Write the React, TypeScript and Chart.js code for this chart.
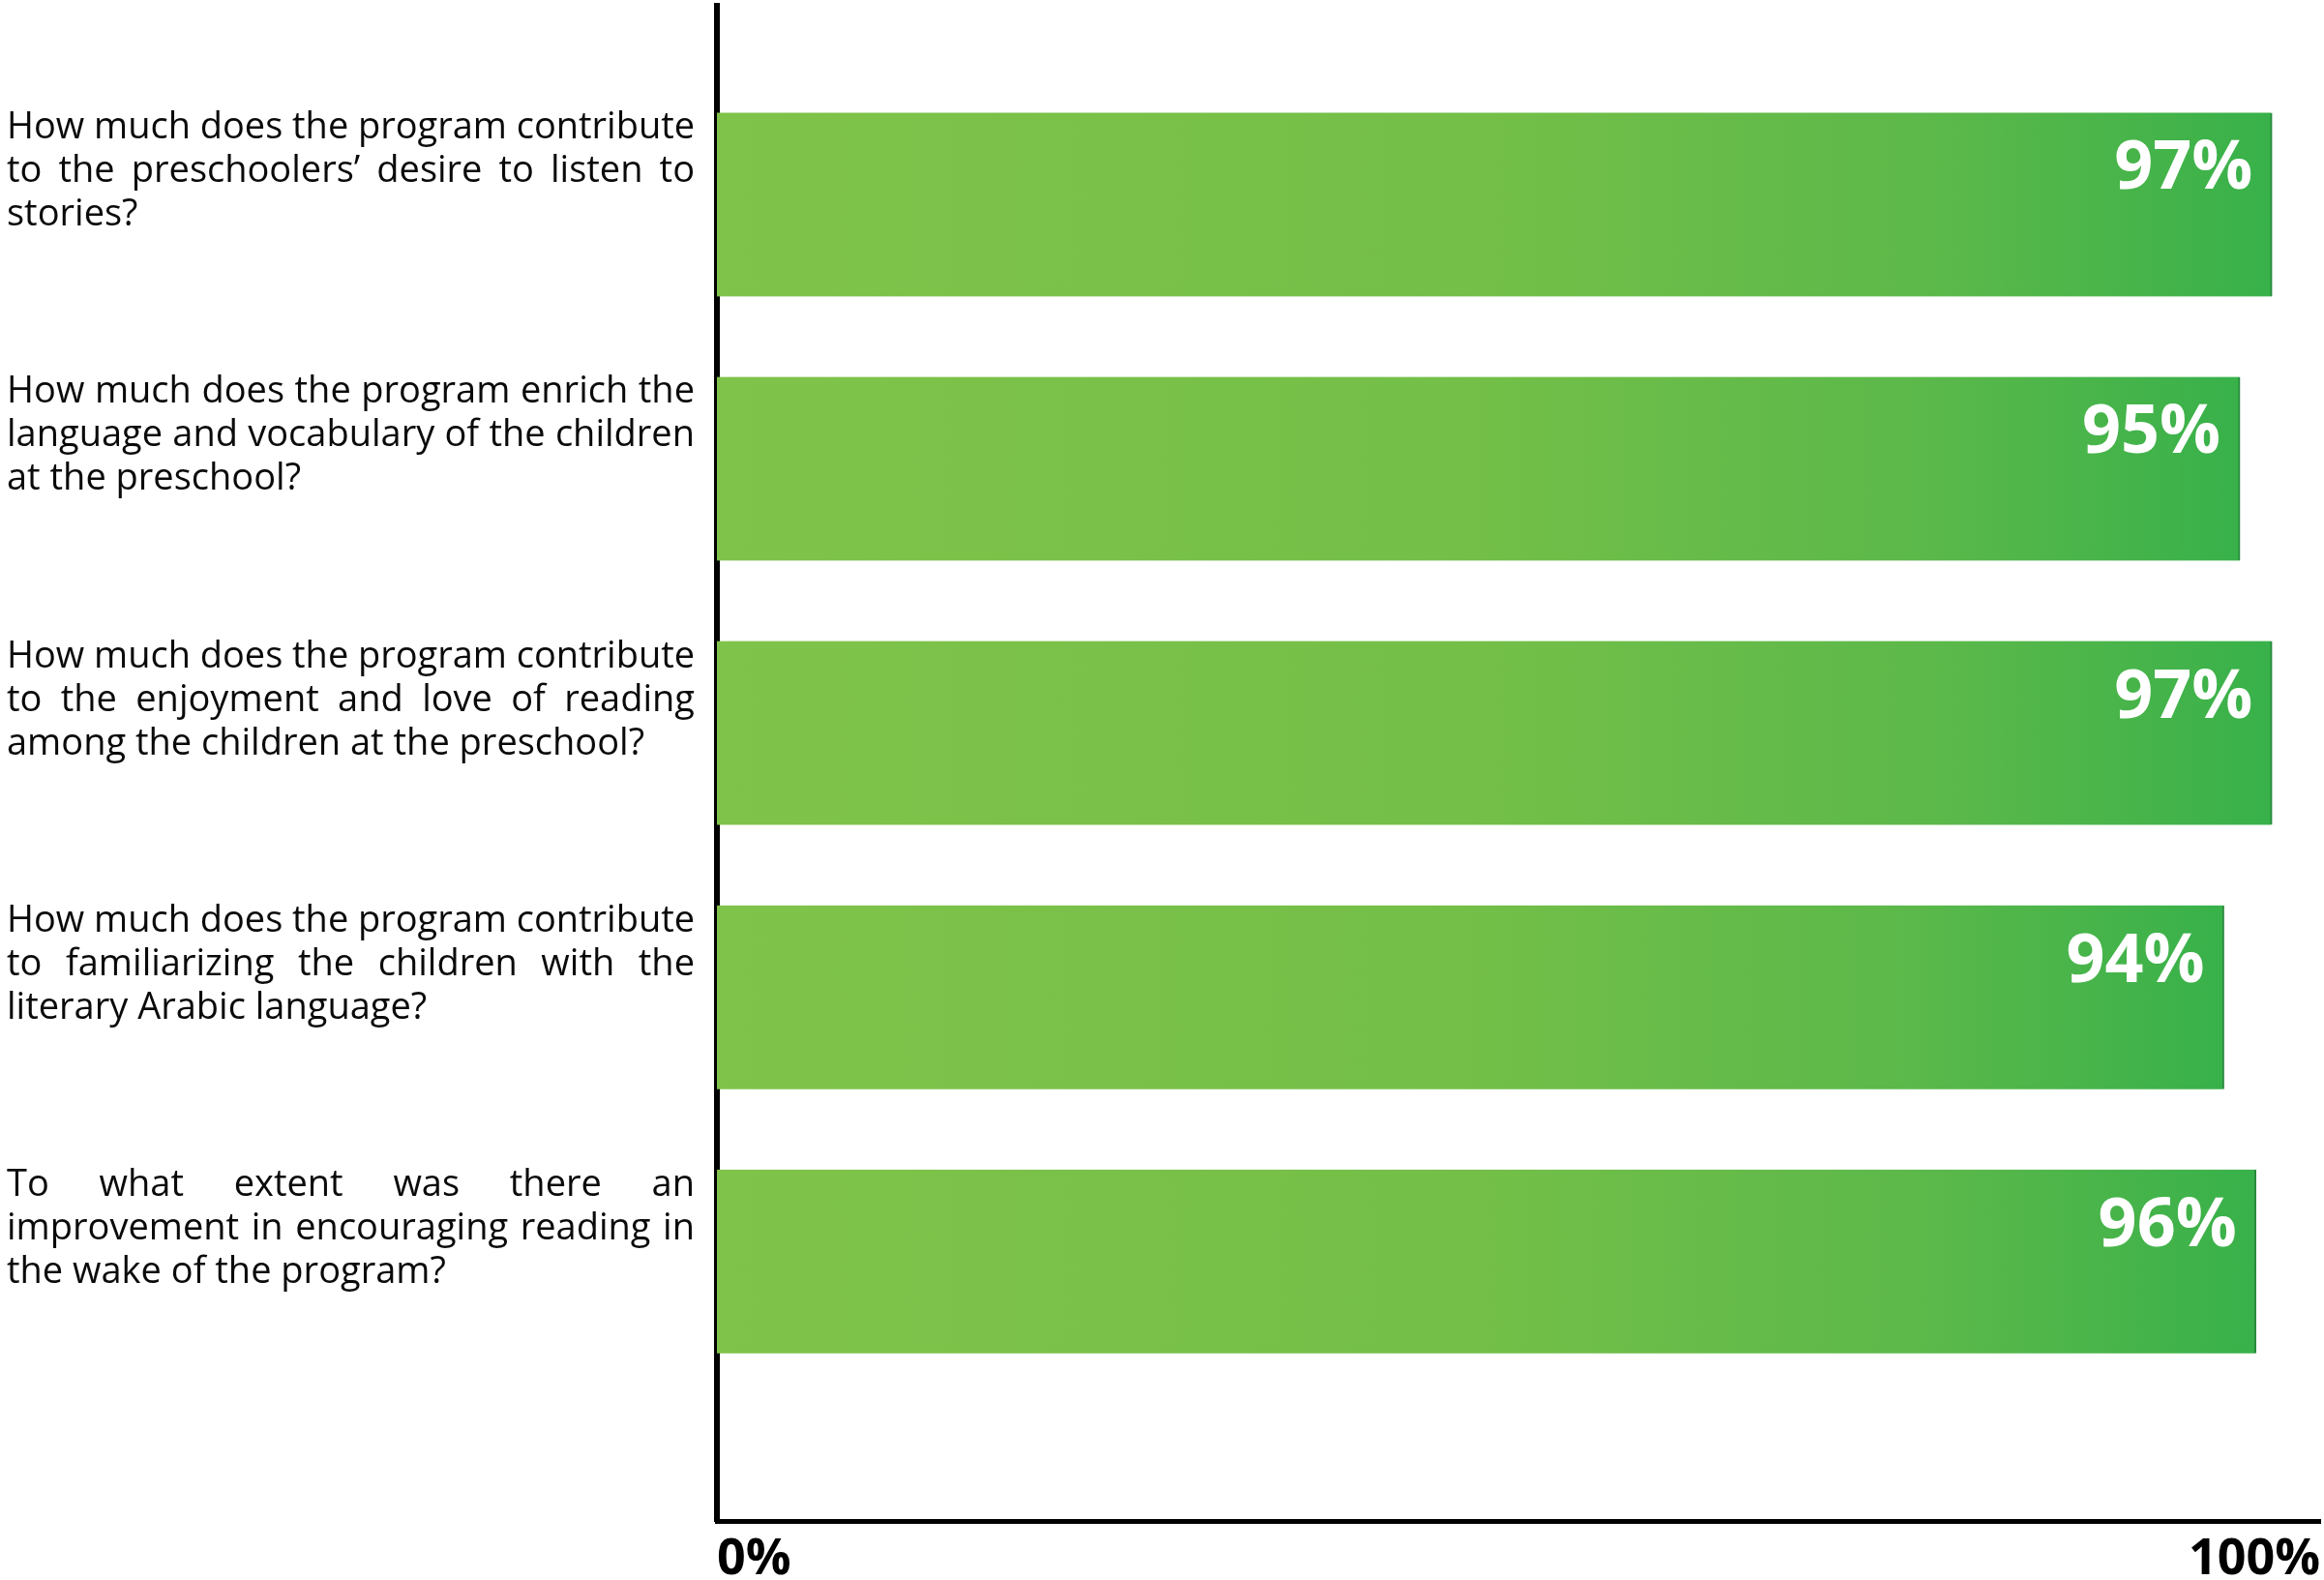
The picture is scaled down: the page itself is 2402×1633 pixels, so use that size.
import React, { useEffect, useRef } from "react";
import { Chart, registerables } from "chart.js";

Chart.register(...registerables);

const questions: string[][] = [
  ["How much does the program contribute", "to the preschoolers’ desire to listen to", "stories?"],
  ["How much does the program enrich the", "language and vocabulary of the children", "at the preschool?"],
  ["How much does the program contribute", "to the enjoyment and love of reading", "among the children at the preschool?"],
  ["How much does the program contribute", "to familiarizing the children with the", "literary Arabic language?"],
  ["To what extent was there an", "improvement in encouraging reading in", "the wake of the program?"],
];
const values: number[] = [97, 95, 97, 94, 96];
const xTickValues: number[] = [0, 100];
const xTickLabels: string[] = ["0%", "100%"];

const W = 2402;
const H = 1633;

const labelPlugin = {
  id: "questionLabels",
  afterDraw(chart: any) {
    const ctx = chart.ctx;
    const ys = chart.scales.y;
    const left = 7;
    const width = 711;
    ctx.save();
    ctx.fillStyle = "#0a0a0a";
    ctx.font = "38px 'Open Sans'";
    ctx.textBaseline = "alphabetic";
    ctx.textAlign = "left";
    const offs = [-68, -23, 22];
    questions.forEach((lines, i) => {
      const cy = ys.getPixelForValue(i);
      lines.forEach((line, li) => {
        const y = cy + offs[li];
        const words = line.split(" ");
        const isLast = li === lines.length - 1;
        const natural = ctx.measureText(line).width;
        if (isLast || words.length < 2) {
          ctx.fillText(line, left, y);
          return;
        }
        const wordWidths = words.map((w: string) => ctx.measureText(w).width);
        const sumW = wordWidths.reduce((a: number, b: number) => a + b, 0);
        if (natural > width) {
          ctx.save();
          ctx.translate(left, y);
          ctx.scale(width / natural, 1);
          ctx.fillText(line, 0, 0);
          ctx.restore();
          return;
        }
        const gap = (width - sumW) / (words.length - 1);
        let x = left;
        words.forEach((w: string, wi: number) => {
          ctx.fillText(w, x, y);
          x += wordWidths[wi] + gap;
        });
      });
    });
    ctx.restore();
  },
};

const valuePlugin = {
  id: "valueLabels",
  afterDatasetsDraw(chart: any) {
    const ctx = chart.ctx;
    const meta = chart.getDatasetMeta(0);
    ctx.save();
    ctx.fillStyle = "#ffffff";
    ctx.font = "bold 70px 'Open Sans'";
    ctx.textAlign = "right";
    ctx.textBaseline = "alphabetic";
    meta.data.forEach((bar: any, i: number) => {
      ctx.fillText(values[i] + "%", bar.x - 20, bar.y - 16);
    });
    ctx.restore();
  },
};

export default function App() {
  const ref = useRef<HTMLCanvasElement>(null);
  useEffect(() => {
    document.body.style.margin = "0";
    const canvas = ref.current!;
    const chart = new Chart(canvas, {
      type: "bar",
      data: {
        datasets: [
          {
            data: values.map((v, i) => ({ x: v, y: i })),
            backgroundColor: (c: any) => {
              const chart = c.chart;
              if (!chart.chartArea) return "#6cbd48";
              const xs = chart.scales.x;
              const x0 = xs.getPixelForValue(0);
              const x1 = xs.getPixelForValue(values[c.dataIndex] ?? 100);
              const g = chart.ctx.createLinearGradient(x0, 0, x1, 0);
              g.addColorStop(0, "#80c34a");
              g.addColorStop(0.5, "#73bf48");
              g.addColorStop(0.8, "#5ab84a");
              g.addColorStop(1, "#38b14a");
              return g;
            },
            borderColor: "#2a8a3e",
            borderWidth: { top: 0, left: 0, bottom: 0, right: 2 },
            borderSkipped: false,
            barThickness: 190,
          } as any,
        ],
      },
      options: {
        indexAxis: "y",
        animation: false,
        responsive: false,
        maintainAspectRatio: false,
        layout: { padding: { top: 6, right: 0, left: 0, bottom: 0 } },
        plugins: {
          legend: { display: false },
          tooltip: { enabled: false },
          title: { display: false },
        },
        scales: {
          y: {
            type: "linear",
            reverse: true,
            offset: false,
            min: -0.752,
            max: 4.982,
            z: 1,
            ticks: { display: false },
            grid: { display: false, drawTicks: false, offset: false },
            border: { display: true, color: "#000000", width: 6 },
            afterFit: (s: any) => {
              s.width = 741;
            },
          },
          x: {
            type: "linear",
            min: 0,
            max: 100,
            z: 1,
            afterBuildTicks: (s: any) => {
              s.ticks = xTickValues.map((v) => ({ value: v }));
            },
            ticks: {
              autoSkip: false,
              maxRotation: 0,
              align: "inner",
              padding: 4,
              color: "#000000",
              font: { family: "'Open Sans'", size: 52, weight: "bold", lineHeight: 1.4 },
              callback: (v: any) => {
                const idx = xTickValues.indexOf(Number(v));
                return idx >= 0 ? xTickLabels[idx] : "";
              },
            },
            grid: { display: false, drawTicks: false },
            border: { display: true, color: "#000000", width: 5 },
            afterFit: (s: any) => {
              s.height = 61;
            },
          },
        },
      } as any,
      plugins: [labelPlugin, valuePlugin],
    });
    return () => chart.destroy();
  }, []);
  return (
    <div style={{ width: W, height: H, background: "#ffffff" }}>
      <canvas ref={ref} width={W} height={H} style={{ display: "block" }} />
    </div>
  );
}
